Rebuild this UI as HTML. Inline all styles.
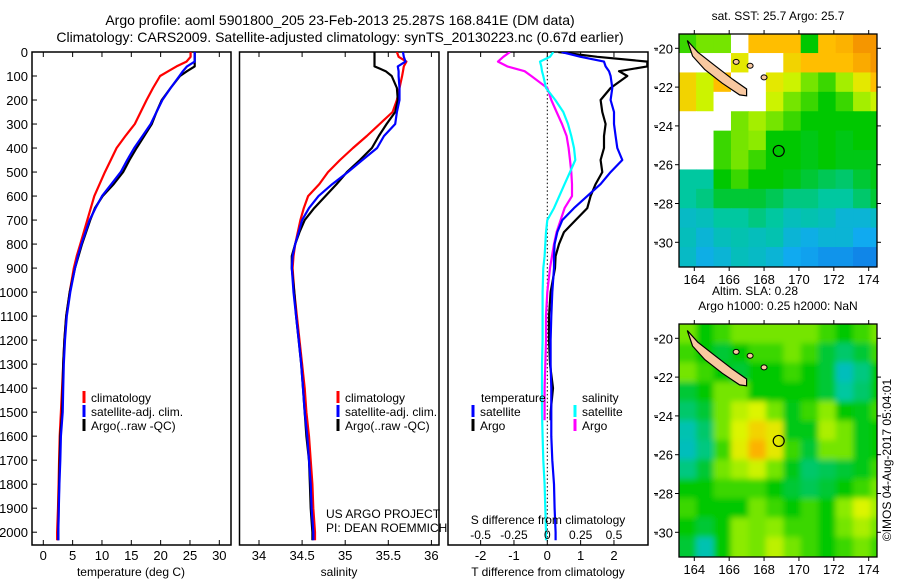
<!DOCTYPE html>
<html><head><meta charset="utf-8"><style>
body{margin:0;background:#fff;}
svg{display:block;font-family:"Liberation Sans",sans-serif;}
text{fill:#000;}
</style></head><body>
<svg id="chart" width="900" height="580" viewBox="0 0 900 580">
<text x="340" y="25" font-size="14" text-anchor="middle">Argo profile: aoml 5901800_205 23-Feb-2013 25.287S 168.841E (DM data)</text>
<text x="340" y="42" font-size="14" text-anchor="middle">Climatology: CARS2009. Satellite-adjusted climatology: synTS_20130223.nc (0.67d earlier)</text>
<g id="g1"></g>
<g id="g2"></g>
<g id="g3"></g>
<g id="m1"></g>
<g id="m2"></g>
<text x="326" y="518" font-size="12">US ARGO PROJECT</text>
<text x="326" y="532" font-size="12">PI: DEAN ROEMMICH</text>
<text x="895" y="460" font-size="12" text-anchor="middle" transform="rotate(-90 895 460)" dy="-4">©IMOS 04-Aug-2017 05:04:01</text>
</svg>
<script>
const depths=[0,20,40,60,80,100,150,200,250,300,350,400,450,500,550,600,650,700,750,800,850,900,1000,1100,1200,1300,1400,1500,1600,1700,1800,1900,2000];
const tempClim=[25.1,25.1,24.4,22.7,21.3,19.9,18.7,17.6,16.6,15.6,14.0,12.5,11.5,10.5,9.6,8.7,8.1,7.5,6.9,6.3,5.7,5.2,4.5,3.9,3.6,3.4,3.2,3.0,2.8,2.7,2.6,2.5,2.35];
const tempSat=[25.8,25.8,25.8,24.5,23.8,23.2,21.7,20.3,19.3,18.3,16.9,15.5,14.3,13.2,11.6,10.0,8.9,7.9,7.2,6.5,5.9,5.4,4.6,4.0,3.7,3.5,3.4,3.3,3.0,2.9,2.75,2.65,2.55];
const tempArgo=[25.8,25.8,25.8,25.8,24.5,23.3,21.7,20.2,19.3,18.5,17.2,15.9,14.7,13.6,12.0,10.1,8.8,8.0,7.3,6.6,6.0,5.4,4.5,3.9,3.6,3.4,3.3,3.2,2.9,2.8,2.7,2.6,2.55];
const salClim=[35.6,35.62,35.71,35.68,35.67,35.66,35.63,35.6,35.55,35.4,35.25,35.09,34.94,34.8,34.7,34.57,34.52,34.48,34.45,34.42,34.4,34.39,34.41,34.44,34.47,34.5,34.53,34.55,34.58,34.6,34.62,34.63,34.65];
const salSat=[35.67,35.68,35.7,35.61,35.62,35.62,35.63,35.63,35.6,35.58,35.45,35.37,35.2,35.03,34.85,34.69,34.58,34.5,34.46,34.42,34.39,34.38,34.4,34.43,34.46,34.49,34.51,34.53,34.56,34.58,34.6,34.61,34.63];
const salArgo=[35.34,35.34,35.34,35.34,35.47,35.54,35.6,35.61,35.58,35.48,35.39,35.31,35.17,35.02,34.9,34.77,34.64,34.53,34.47,34.42,34.38,34.38,34.41,34.43,34.46,34.49,34.51,34.53,34.55,34.58,34.59,34.6,34.62];
const dTSat=[0.43,1.0,1.7,1.75,1.85,1.9,1.95,1.9,2.0,2.0,2.05,2.1,2.25,1.9,1.6,1.2,0.8,0.45,0.3,0.22,0.2,0.2,0.15,0.12,0.1,0.1,0.12,0.12,0.12,0.15,0.2,0.22,0.25];
const dTArgo=[0.33,1.5,3.0,3.0,2.15,2.4,1.9,1.6,1.65,1.75,1.7,1.7,1.6,1.65,1.45,1.3,1.2,0.85,0.5,0.35,0.25,0.23,0.1,0.05,0.05,0.08,0.17,0.1];
const dSSat=[0.045,0.02,-0.055,-0.045,-0.04,-0.03,-0.01,0.06,0.12,0.155,0.18,0.2,0.21,0.17,0.13,0.09,0.05,0.0,-0.01,-0.015,-0.02,-0.03,-0.035,-0.035,-0.035,-0.04,-0.04,-0.04,-0.035,-0.03,-0.02,-0.015,-0.01];
const dSArgo=[-0.28,-0.33,-0.37,-0.3,-0.17,-0.12,0.0,0.03,0.07,0.11,0.145,0.16,0.17,0.18,0.185,0.185,0.13,0.1,0.07,0.05,0.035,0.02,0.0,-0.01,-0.01,-0.015,-0.02,-0.02];
const tempTicks=[0,5,10,15,20,25,30];
const salTicks=[34,34.5,35,35.5,36];
const dTTicks=[-2,-1,0,1,2];
const dSTicks=[-0.5,-0.25,0,0.25,0.5];
const depthTicks=[0,100,200,300,400,500,600,700,800,900,1000,1100,1200,1300,1400,1500,1600,1700,1800,1900,2000];
const mapLons=[164,166,168,170,172,174];
const mapLats=[20,22,24,26,28,30];
const sstGrid=[
[0.55,0.6,0.6,NaN,0.85,0.85,0.85,0.5,0.85,0.88,0.95,0.95],
[NaN,NaN,NaN,0.75,NaN,NaN,0.8,0.85,0.85,0.85,0.9,0.95],
[0.8,0.7,0.85,NaN,NaN,0.75,0.7,0.6,0.55,0.65,0.75,0.85],
[0.8,0.7,NaN,NaN,NaN,0.7,0.6,0.55,0.5,0.55,0.65,0.7],
[NaN,NaN,NaN,0.6,0.65,0.6,0.55,0.5,0.5,0.5,0.5,0.5],
[NaN,NaN,0.55,0.6,0.62,0.5,0.5,0.48,0.5,0.48,0.5,0.5],
[NaN,NaN,0.55,0.6,0.55,0.5,0.5,0.48,0.5,0.48,0.48,0.48],
[0.35,0.35,0.5,0.55,0.5,0.5,0.48,0.45,0.42,0.4,0.45,0.48],
[0.35,0.38,0.45,0.45,0.45,0.42,0.38,0.38,0.35,0.35,0.4,0.45],
[0.28,0.3,0.35,0.35,0.38,0.35,0.3,0.32,0.3,0.25,0.25,0.28],
[0.3,0.25,0.3,0.32,0.3,0.32,0.25,0.22,0.25,0.25,0.2,0.2],
[0.28,0.22,0.25,0.3,0.28,0.25,0.2,0.18,0.15,0.15,0.12,0.12]];
const slaGrid=[
[0.6,0.5,0.55,0.6,0.6,0.6,0.6,0.6,0.55,0.5,0.55,0.6],
[0.55,0.5,0.45,0.5,0.55,0.55,0.6,0.55,0.45,0.4,0.45,0.55],
[0.6,0.55,0.5,0.45,0.5,0.5,0.55,0.5,0.45,0.3,0.38,0.5],
[0.45,0.5,0.6,0.6,0.5,0.5,0.5,0.5,0.45,0.35,0.4,0.5],
[0.4,0.45,0.6,0.68,0.72,0.6,0.48,0.55,0.62,0.5,0.48,0.55],
[0.32,0.4,0.6,0.72,0.8,0.75,0.48,0.48,0.66,0.6,0.48,0.5],
[0.3,0.38,0.55,0.74,0.88,0.75,0.55,0.45,0.6,0.6,0.48,0.5],
[0.38,0.45,0.6,0.65,0.7,0.6,0.48,0.4,0.42,0.45,0.48,0.55],
[0.5,0.5,0.55,0.55,0.55,0.5,0.45,0.42,0.45,0.5,0.55,0.6],
[0.55,0.5,0.5,0.5,0.6,0.55,0.5,0.55,0.5,0.62,0.72,0.65],
[0.5,0.45,0.5,0.62,0.6,0.62,0.55,0.55,0.5,0.6,0.66,0.6],
[0.45,0.32,0.5,0.62,0.6,0.68,0.6,0.55,0.5,0.55,0.6,0.55]];
const gridLon0=163.12, gridLat0=19.26;
const island=[[163.6,19.6],[164.2,20.2],[165.2,20.9],[166.2,21.6],[167.0,22.1],[167.0,22.45],[166.6,22.4],[165.6,21.8],[164.6,21.1],[163.9,20.4]];
const floatPos=[168.84,25.29];

const NS='http://www.w3.org/2000/svg';
function el(tag,attrs,parent,txt){const e=document.createElementNS(NS,tag);for(const k in attrs)e.setAttribute(k,attrs[k]);if(txt!==undefined)e.textContent=txt;parent.appendChild(e);return e;}
const yTop=52,yBot=545,pxPerM=0.2401;
const yD=d=>yTop+d*pxPerM;
const xT=t=>43.3+t*5.867;
const xS=s=>259+(s-34)*86.2;
const xDT=t=>547.3+t*33.33;
const xDS=s=>547.3+s*133.3;

function linePath(vals,xf){let p='';for(let i=0;i<vals.length;i++){p+=(i?'L':'M')+xf(vals[i]).toFixed(1)+','+yD(depths[i]).toFixed(1);}
const last=vals.length-1;p+='L'+xf(vals[last]).toFixed(1)+','+Math.min(yBot,yD(depths[last])+8).toFixed(1);return p;}

function panel(g,x0,x1,name,ticks,xf){
  const cp=el('clipPath',{id:'cp'+name},g);el('rect',{x:x0,y:yTop,width:x1-x0,height:yBot-yTop},cp);
  el('rect',{x:x0,y:yTop,width:x1-x0,height:yBot-yTop,fill:'none',stroke:'#000','stroke-width':1.5},g);
  ticks.forEach(t=>{const x=xf(t);el('line',{x1:x,x2:x,y1:yTop,y2:yTop+5,stroke:'#000'},g);el('line',{x1:x,x2:x,y1:yBot,y2:yBot-5,stroke:'#000'},g);});
  const lg=el('g',{},g);lg.setAttribute('clip-path','url(#cp'+name+')');
  return lg;
}
function line(parent,vals,xf,color,nm){const p=el('path',{d:linePath(vals,xf),fill:'none',stroke:color,'stroke-width':2.2,'stroke-linejoin':'round'},parent);

}
function legend(g,x,y,items){items.forEach((it,i)=>{const yy=y+i*14;el('line',{x1:x,x2:x,y1:yy-6,y2:yy+6,stroke:it[1],'stroke-width':3},g);const t=el('text',{x:x+7,y:yy+5,'font-size':12},g,it[0]);

});}

const g1=document.getElementById('g1');
const l1=panel(g1,32,231,'temp',tempTicks,xT);
depthTicks.forEach(d=>{const y=yD(d);el('line',{x1:32,x2:37,y1:y,y2:y,stroke:'#000'},g1);const t=el('text',{x:28,y:y+5,'font-size':13,'text-anchor':'end'},g1,d);

});
tempTicks.forEach(t=>{const tx=el('text',{x:xT(t),y:560,'font-size':13,'text-anchor':'middle'},g1,t);

});
el('text',{x:131,y:576,'font-size':12,'text-anchor':'middle'},g1,'temperature (deg C)');
line(l1,tempClim,xT,'#ff0000','temp-climatology-line');
line(l1,tempArgo,xT,'#000000','temp-argo-line');
line(l1,tempSat,xT,'#0000ff','temp-satellite-line');
legend(g1,84,397,[['climatology','#f00'],['satellite-adj. clim.','#00f'],['Argo(..raw -QC)','#000']]);

const g2=document.getElementById('g2');
const l2=panel(g2,239.5,439,'sal',salTicks,xS);
salTicks.forEach(t=>{const tx=el('text',{x:xS(t),y:560,'font-size':13,'text-anchor':'middle'},g2,t);

});
el('text',{x:339,y:576,'font-size':12,'text-anchor':'middle'},g2,'salinity');
line(l2,salClim,xS,'#ff0000','sal-climatology-line');
line(l2,salArgo,xS,'#000000','sal-argo-line');
line(l2,salSat,xS,'#0000ff','sal-satellite-line');
legend(g2,338,397,[['climatology','#f00'],['satellite-adj. clim.','#00f'],['Argo(..raw -QC)','#000']]);

const g3=document.getElementById('g3');
const l3=panel(g3,448,648,'diff',dTTicks,xDT);
for(let d=0;d<=2040;d+=16){el('line',{x1:547.3,x2:547.3,y1:yD(d),y2:yD(d)+1.5,stroke:'#000','stroke-width':1},l3);}
dTTicks.forEach(t=>{const tx=el('text',{x:xDT(t),y:560,'font-size':13,'text-anchor':'middle'},g3,t);

});
dSTicks.forEach(t=>{const tx=el('text',{x:xDS(t),y:539,'font-size':12,'text-anchor':'middle'},g3,t);

});
el('text',{x:548,y:524,'font-size':12,'text-anchor':'middle'},g3,'S difference from climatology');
el('text',{x:548,y:576,'font-size':12,'text-anchor':'middle'},g3,'T difference from climatology');
line(l3,dSArgo,xDS,'#ff00ff','sal-diff-argo-line');
line(l3,dSSat,xDS,'#00ffff','sal-diff-satellite-line');
line(l3,dTArgo,xDT,'#000000','temp-diff-argo-line');
line(l3,dTSat,xDT,'#0000ff','temp-diff-satellite-line');
el('text',{x:481,y:402,'font-size':12},g3,'temperature');
el('text',{x:582,y:402,'font-size':12},g3,'salinity');
legend(g3,473,411,[['satellite','#00f'],['Argo','#000']]);
legend(g3,575,411,[['satellite','#0ff'],['Argo','#f0f']]);

function interp(stops,v){for(let i=1;i<stops.length;i++){if(v<=stops[i][0]){const a=stops[i-1],b=stops[i],f=(v-a[0])/(b[0]-a[0]);return 'rgb('+[1,2,3].map(k=>Math.round(a[k]+(b[k]-a[k])*f)).join(',')+')';}}const l=stops[stops.length-1];return 'rgb('+l[1]+','+l[2]+','+l[3]+')';}
const pal=[[0,16,80,220],[0.2,16,170,240],[0.35,0,200,160],[0.5,0,200,0],[0.62,140,235,0],[0.72,220,245,0],[0.85,255,190,0],[1,240,130,0]];
function drawMap(id,y0,grid,title,blur){
  const g=document.getElementById(id);const x0=679,x1=877,y1=y0+233;
  const lx=lon=>694.3+(lon-164)*17.44, ly=lat=>y0+14.3+(lat-20)*19.4;
  const cp=el('clipPath',{id:'cp'+id},g);el('rect',{x:x0,y:y0,width:x1-x0,height:y1-y0},cp);
  const cg=el('g',{'clip-path':'url(#cp'+id+')'},g);
  const hg=el('g',{},cg);
  if(blur){const f=el('filter',{id:'bl'+id,x:'-0.1',y:'-0.1',width:'1.2',height:'1.2'},g);el('feGaussianBlur',{stdDeviation:3},f);hg.setAttribute('filter','url(#bl'+id+')');}
  grid.forEach((row,r)=>row.forEach((v,c)=>{const x=lx(gridLon0+c),y=ly(gridLat0+r);const pad=blur?(c===0||r===0||c===11||r===11?14:0):0;
  const rc=el('rect',{x:x-0.3-(c===0?pad:0),y:y-0.3-(r===0?pad:0),width:17.44+0.6+pad,height:19.4+0.6+pad,fill:isNaN(v)?'#fff':interp(pal,v)},hg);
  
  }));
  const isl=el('polygon',{points:island.map(p=>lx(p[0]).toFixed(1)+','+ly(p[1]).toFixed(1)).join(' '),fill:'#f8c8a0',stroke:'#000','stroke-width':1.2},cg);
  
  
  [[166.4,20.7],[167.2,20.9],[168.0,21.5]].forEach(p=>el('ellipse',{cx:lx(p[0]),cy:ly(p[1]),rx:3,ry:2.5,fill:'#f8c8a0',stroke:'#000'},cg));
  const fc=el('circle',{cx:lx(floatPos[0]),cy:ly(floatPos[1]),r:5.5,fill:'none',stroke:'#000','stroke-width':1.2},cg);
  
  
  el('rect',{x:x0,y:y0,width:x1-x0,height:y1-y0,fill:'none',stroke:'#000','stroke-width':1.3},g);
  mapLons.forEach(l=>{const x=lx(l);el('line',{x1:x,x2:x,y1:y0,y2:y0-4,stroke:'#000'},g);el('line',{x1:x,x2:x,y1:y1,y2:y1+4,stroke:'#000'},g);const t=el('text',{x:x,y:y1+17,'font-size':13,'text-anchor':'middle'},g,l);
  
  });
  mapLats.forEach(l=>{const y=ly(l);el('line',{x1:x0,x2:x0-4,y1:y,y2:y,stroke:'#000'},g);el('line',{x1:x1,x2:x1+4,y1:y,y2:y,stroke:'#000'},g);el('line',{x1:654,x2:658,y1:y,y2:y,stroke:'#000'},g);const t=el('text',{x:x0-6,y:y+5,'font-size':13,'text-anchor':'end'},g,'-'+l);
  
  });
  title.forEach((tt,i)=>{const t=el('text',{x:tt[1],y:y0-(title.length-i)*15+1,'font-size':12,'text-anchor':'middle'},g,tt[0]);
  
  });
}
drawMap('m1',34,sstGrid,[['sat. SST: 25.7 Argo: 25.7',778]],false);
drawMap('m2',324,slaGrid,[['Altim. SLA: 0.28',755],['Argo h1000: 0.25 h2000: NaN',778]],true);
</script>
</body></html>
